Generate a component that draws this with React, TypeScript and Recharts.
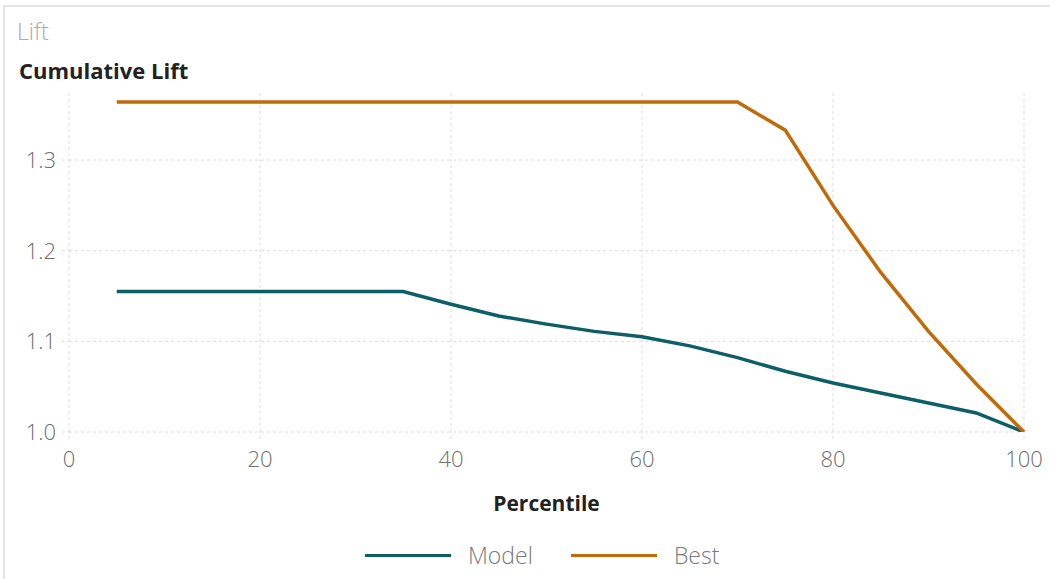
import React from "react";
import { LineChart, Line, XAxis, YAxis, CartesianGrid, Label } from "recharts";

const percentiles = [5, 10, 15, 20, 25, 30, 35, 40, 45, 50, 55, 60, 65, 70, 75, 80, 85, 90, 95, 100];
const modelLift = [1.155, 1.155, 1.155, 1.155, 1.155, 1.155, 1.155, 1.141, 1.128, 1.119, 1.111, 1.105, 1.095, 1.082, 1.067, 1.054, 1.043, 1.032, 1.021, 1.0];
const bestLift = [1.364, 1.364, 1.364, 1.364, 1.364, 1.364, 1.364, 1.364, 1.364, 1.364, 1.364, 1.364, 1.364, 1.364, 1.333, 1.25, 1.176, 1.111, 1.053, 1.0];
const xTicks = [0, 20, 40, 60, 80, 100];
const yTicks = [1.0, 1.1, 1.2, 1.3];
const seriesNames = ["Model", "Best"];
const seriesColors = ["#0d5f67", "#c06a08"];

const data = percentiles.map((p, i) => ({ p, model: modelLift[i], best: bestLift[i] }));

const FONT = "'Open Sans', 'Noto Sans', sans-serif";

export default function App() {
  return (
    <div style={{ position: "absolute", left: 0, top: 0, width: 1050, height: 579, background: "#fff", overflow: "hidden" }}>
      <div style={{ position: "absolute", left: 3, top: 5, width: 1100, height: 600, borderLeft: "2px solid #e4e4e4", borderTop: "2px solid #e4e4e4" }} />
      <div style={{ position: "absolute", left: 17, top: 15, fontFamily: FONT, fontSize: 23, fontWeight: 300, color: "#a8a8a8", lineHeight: "32px" }}>Lift</div>
      <div style={{ position: "absolute", left: 19, top: 55, fontFamily: FONT, fontSize: 22, fontWeight: 700, color: "#222", lineHeight: "30px" }}>Cumulative Lift</div>
      <div style={{ position: "absolute", left: 0, top: 0 }}>
        <LineChart width={1050} height={579} data={data} margin={{ top: 93, right: 26, bottom: 117, left: 9 }}>
          <CartesianGrid stroke="#dcdcdc" strokeDasharray="3 3" horizontalValues={yTicks} verticalValues={xTicks} />
          <XAxis
            dataKey="p"
            type="number"
            domain={[0, 100]}
            ticks={xTicks}
            axisLine={false}
            tickLine={{ stroke: "#dcdcdc", strokeDasharray: "3 3" }}
            tickSize={7}
            tickMargin={12}
            height={30}
            tick={{ fontFamily: FONT, fontSize: 22, fill: "#6e6e6e", fontWeight: 300 }}
          >
            <Label value="Percentile" position="insideBottom" offset={-49} style={{ fontFamily: FONT, fontSize: 21, fontWeight: 700, fill: "#222" }} />
          </XAxis>
          <YAxis
            type="number"
            domain={[1.0, 1.374]}
            ticks={yTicks}
            allowDataOverflow
            axisLine={false}
            tickLine={{ stroke: "#dcdcdc", strokeDasharray: "3 3" }}
            tickSize={7}
            tickMargin={6}
            width={60}
            tickFormatter={(v: number) => v.toFixed(1)}
            tick={{ fontFamily: FONT, fontSize: 22, fill: "#6e6e6e", fontWeight: 300 }}
          />
          <Line type="linear" dataKey="model" name="Model" stroke={seriesColors[0]} strokeWidth={3.5} dot={false} isAnimationActive={false} />
          <Line type="linear" dataKey="best" name="Best" stroke={seriesColors[1]} strokeWidth={3.5} dot={false} isAnimationActive={false} />
        </LineChart>
      </div>
      <div style={{ position: "absolute", left: 365, top: 539, display: "flex", alignItems: "center", fontFamily: FONT, fontSize: 23, fontWeight: 300, color: "#7a7a7a", lineHeight: "32px" }}>
        {seriesNames.map((n, i) => (
          <div key={n} style={{ display: "flex", alignItems: "center", marginRight: i === 0 ? 38 : 0 }}>
            <div style={{ width: 86, height: 3, background: seriesColors[i], marginRight: 17 }} />
            <span>{n}</span>
          </div>
        ))}
      </div>
    </div>
  );
}
